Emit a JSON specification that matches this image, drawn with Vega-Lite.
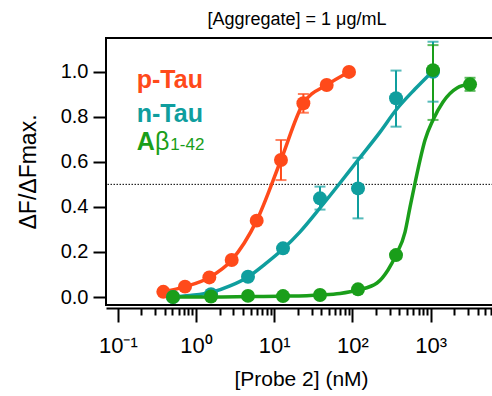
{
  "$schema": "https://vega.github.io/schema/vega-lite/v6.json",
  "autosize": {"type": "none"},
  "padding": {"left": 106, "top": 38, "right": 0, "bottom": 91},
  "width": 390,
  "height": 267,
  "background": "white",
  "title": {"text": "[Aggregate] = 1 μg/mL", "fontSize": 18, "fontWeight": "normal", "font": "Liberation Sans", "anchor": "middle", "offset": 9, "dx": -4, "color": "black"},
  "config": {
    "font": "Liberation Sans",
    "view": {"stroke": "black", "strokeWidth": 2},
    "axis": {"grid": false, "labelColor": "black", "titleColor": "black", "tickColor": "black", "domainColor": "black", "labelFont": "Liberation Sans", "titleFont": "Liberation Sans", "titleFontWeight": "normal"}
  },
  "datasets": {
    "points": [
      {"series": "p-Tau", "conc": 0.382, "val": 0.023},
      {"series": "p-Tau", "conc": 0.723, "val": 0.046},
      {"series": "p-Tau", "conc": 1.48, "val": 0.087},
      {"series": "p-Tau", "conc": 2.86, "val": 0.164},
      {"series": "p-Tau", "conc": 5.97, "val": 0.339},
      {"series": "p-Tau", "conc": 12.2, "val": 0.608, "lo": 0.519, "hi": 0.697},
      {"series": "p-Tau", "conc": 23.6, "val": 0.86, "lo": 0.818, "hi": 0.901},
      {"series": "p-Tau", "conc": 46.9, "val": 0.941},
      {"series": "p-Tau", "conc": 90.5, "val": 0.999},
      {"series": "n-Tau", "conc": 0.508, "val": 0.0},
      {"series": "n-Tau", "conc": 1.555, "val": 0.012},
      {"series": "n-Tau", "conc": 4.62, "val": 0.09},
      {"series": "n-Tau", "conc": 12.96, "val": 0.216},
      {"series": "n-Tau", "conc": 38.5, "val": 0.438, "lo": 0.388, "hi": 0.49},
      {"series": "n-Tau", "conc": 117.9, "val": 0.482, "lo": 0.349, "hi": 0.618},
      {"series": "n-Tau", "conc": 361, "val": 0.882, "lo": 0.756, "hi": 1.005},
      {"series": "n-Tau", "conc": 1073, "val": 1.0, "lo": 0.867, "hi": 1.133},
      {"series": "Aβ1-42", "conc": 0.508, "val": 0.0},
      {"series": "Aβ1-42", "conc": 1.555, "val": 0.002},
      {"series": "Aβ1-42", "conc": 4.62, "val": 0.005},
      {"series": "Aβ1-42", "conc": 12.96, "val": 0.004},
      {"series": "Aβ1-42", "conc": 38.5, "val": 0.009},
      {"series": "Aβ1-42", "conc": 117.9, "val": 0.034, "lo": 0.024, "hi": 0.044},
      {"series": "Aβ1-42", "conc": 361, "val": 0.186, "lo": 0.17, "hi": 0.2},
      {"series": "Aβ1-42", "conc": 1073, "val": 1.007, "lo": 0.786, "hi": 1.118},
      {"series": "Aβ1-42", "conc": 3190, "val": 0.944, "lo": 0.915, "hi": 0.973}
    ],
    "curves": [
      {"series": "p-Tau", "conc": 0.382, "val": 0.023},
      {"series": "p-Tau", "conc": 0.723, "val": 0.046},
      {"series": "p-Tau", "conc": 1.48, "val": 0.087},
      {"series": "p-Tau", "conc": 2.86, "val": 0.164},
      {"series": "p-Tau", "conc": 5.97, "val": 0.339},
      {"series": "p-Tau", "conc": 12.2, "val": 0.608},
      {"series": "p-Tau", "conc": 23.6, "val": 0.86},
      {"series": "p-Tau", "conc": 46.9, "val": 0.941},
      {"series": "p-Tau", "conc": 90.5, "val": 0.999},
      {"series": "n-Tau", "conc": 0.465, "val": 0.0},
      {"series": "n-Tau", "conc": 0.838, "val": 0.007},
      {"series": "n-Tau", "conc": 1.555, "val": 0.02},
      {"series": "n-Tau", "conc": 2.72, "val": 0.049},
      {"series": "n-Tau", "conc": 4.62, "val": 0.089},
      {"series": "n-Tau", "conc": 7.63, "val": 0.146},
      {"series": "n-Tau", "conc": 12.96, "val": 0.213},
      {"series": "n-Tau", "conc": 21.4, "val": 0.289},
      {"series": "n-Tau", "conc": 38.5, "val": 0.395},
      {"series": "n-Tau", "conc": 69.4, "val": 0.506},
      {"series": "n-Tau", "conc": 117.9, "val": 0.608},
      {"series": "n-Tau", "conc": 225.3, "val": 0.732},
      {"series": "n-Tau", "conc": 361, "val": 0.83},
      {"series": "n-Tau", "conc": 631.8, "val": 0.923},
      {"series": "n-Tau", "conc": 1042, "val": 0.999},
      {"series": "Aβ1-42", "conc": 0.426, "val": 0.0},
      {"series": "Aβ1-42", "conc": 1.555, "val": 0.0},
      {"series": "Aβ1-42", "conc": 4.9, "val": 0.002},
      {"series": "Aβ1-42", "conc": 15.92, "val": 0.004},
      {"series": "Aβ1-42", "conc": 38.5, "val": 0.009},
      {"series": "Aβ1-42", "conc": 69.4, "val": 0.016},
      {"series": "Aβ1-42", "conc": 117.9, "val": 0.031},
      {"series": "Aβ1-42", "conc": 206.3, "val": 0.062},
      {"series": "Aβ1-42", "conc": 285.2, "val": 0.12},
      {"series": "Aβ1-42", "conc": 361, "val": 0.186},
      {"series": "Aβ1-42", "conc": 470.6, "val": 0.288},
      {"series": "Aβ1-42", "conc": 545.2, "val": 0.399},
      {"series": "Aβ1-42", "conc": 631.8, "val": 0.506},
      {"series": "Aβ1-42", "conc": 731.8, "val": 0.608},
      {"series": "Aβ1-42", "conc": 847.9, "val": 0.697},
      {"series": "Aβ1-42", "conc": 1073, "val": 0.786},
      {"series": "Aβ1-42", "conc": 1440, "val": 0.866},
      {"series": "Aβ1-42", "conc": 2176, "val": 0.928},
      {"series": "Aβ1-42", "conc": 3190, "val": 0.945}
    ],
    "labels": [
      {"series": "p-Tau", "part": "main", "label": "p-Tau", "conc": 0.1745, "val": 0.926},
      {"series": "n-Tau", "part": "main", "label": "n-Tau", "conc": 0.1745, "val": 0.778},
      {"series": "Aβ1-42", "part": "main", "label": "A", "conc": 0.1745, "val": 0.652},
      {"series": "Aβ1-42", "part": "greek", "label": "β", "conc": 0.299, "val": 0.652},
      {"series": "Aβ1-42", "part": "sub", "label": "1-42", "conc": 0.47, "val": 0.652}
    ]
  },
  "encoding": {
    "x": {
      "field": "conc", "type": "quantitative",
      "scale": {"type": "log", "domain": [0.07065, 6855], "nice": false},
      "axis": {
        "orient": "bottom",
        "offset": 3,
        "values": [0.1,0.2,0.3,0.4,0.5,0.6,0.7,0.8,0.9,1,2,3,4,5,6,7,8,9,10,20,30,40,50,60,70,80,90,100,200,300,400,500,600,700,800,900,1000,2000,3000,4000,5000,6000],
        "labelExpr": "datum.value == 0.1 ? '10⁻¹' : datum.value == 1 ? '10⁰' : datum.value == 10 ? '10¹' : datum.value == 100 ? '10²' : datum.value == 1000 ? '10³' : ''",
        "labelOverlap": false,
        "labelFlush": false,
        "labelFontSize": 22,
        "labelPadding": 13,
        "domainWidth": 2,
        "tickWidth": 2,
        "tickSize": {"condition": {"test": "datum.value == 0.1 || datum.value == 1 || datum.value == 10 || datum.value == 100 || datum.value == 1000", "value": 14}, "value": 7},
        "title": "[Probe 2] (nM)",
        "titleFontSize": 21,
        "titlePadding": 12
      }
    },
    "y": {
      "field": "val", "type": "quantitative",
      "scale": {"domain": [-0.0355, 1.1496], "nice": false, "zero": false},
      "axis": {
        "values": [0, 0.2, 0.4, 0.6, 0.8, 1.0],
        "format": ".1f",
        "domain": false,
        "tickSize": 13,
        "tickWidth": 2,
        "labelFontSize": 20,
        "labelPadding": 5,
        "title": "ΔF/ΔFmax.",
        "titleFontSize": 23,
        "titlePadding": 20
      }
    },
    "color": {
      "field": "series", "type": "nominal",
      "scale": {"domain": ["p-Tau", "n-Tau", "Aβ1-42"], "range": ["#FF4A1A", "#0F9E9E", "#1A9E1A"]},
      "legend": null
    }
  },
  "layer": [
    {
      "data": {"values": [{"ref": 0.5}]},
      "mark": {"type": "rule", "color": "black", "strokeWidth": 1, "strokeDash": [1.5, 1.5]},
      "encoding": {"y": {"field": "ref", "type": "quantitative"}, "x": null, "color": null}
    },
    {
      "data": {"name": "curves"},
      "mark": {"type": "line", "strokeWidth": 3.5, "interpolate": "monotone"}
    },
    {
      "data": {"name": "points"},
      "transform": [{"filter": "isValid(datum.lo)"}],
      "mark": {"type": "rule", "strokeWidth": 2},
      "encoding": {"y": {"field": "lo", "type": "quantitative"}, "y2": {"field": "hi"}}
    },
    {
      "data": {"name": "points"},
      "transform": [{"filter": "isValid(datum.lo)"}],
      "mark": {"type": "tick", "orient": "horizontal", "size": 11, "thickness": 2},
      "encoding": {"y": {"field": "lo", "type": "quantitative"}}
    },
    {
      "data": {"name": "points"},
      "transform": [{"filter": "isValid(datum.hi)"}],
      "mark": {"type": "tick", "orient": "horizontal", "size": 11, "thickness": 2},
      "encoding": {"y": {"field": "hi", "type": "quantitative"}}
    },
    {
      "data": {"name": "points"},
      "mark": {"type": "circle", "size": 195, "opacity": 1}
    },
    {
      "data": {"name": "labels"},
      "transform": [{"filter": "datum.part == 'main'"}],
      "mark": {"type": "text", "align": "left", "baseline": "alphabetic", "fontSize": 25, "fontWeight": "bold"},
      "encoding": {"text": {"field": "label"}}
    },
    {
      "data": {"name": "labels"},
      "transform": [{"filter": "datum.part == 'greek'"}],
      "mark": {"type": "text", "align": "left", "baseline": "alphabetic", "fontSize": 25, "fontWeight": "normal"},
      "encoding": {"text": {"field": "label"}}
    },
    {
      "data": {"name": "labels"},
      "transform": [{"filter": "datum.part == 'sub'"}],
      "mark": {"type": "text", "align": "left", "baseline": "alphabetic", "fontSize": 17, "fontWeight": "normal"},
      "encoding": {"text": {"field": "label"}}
    }
  ]
}
